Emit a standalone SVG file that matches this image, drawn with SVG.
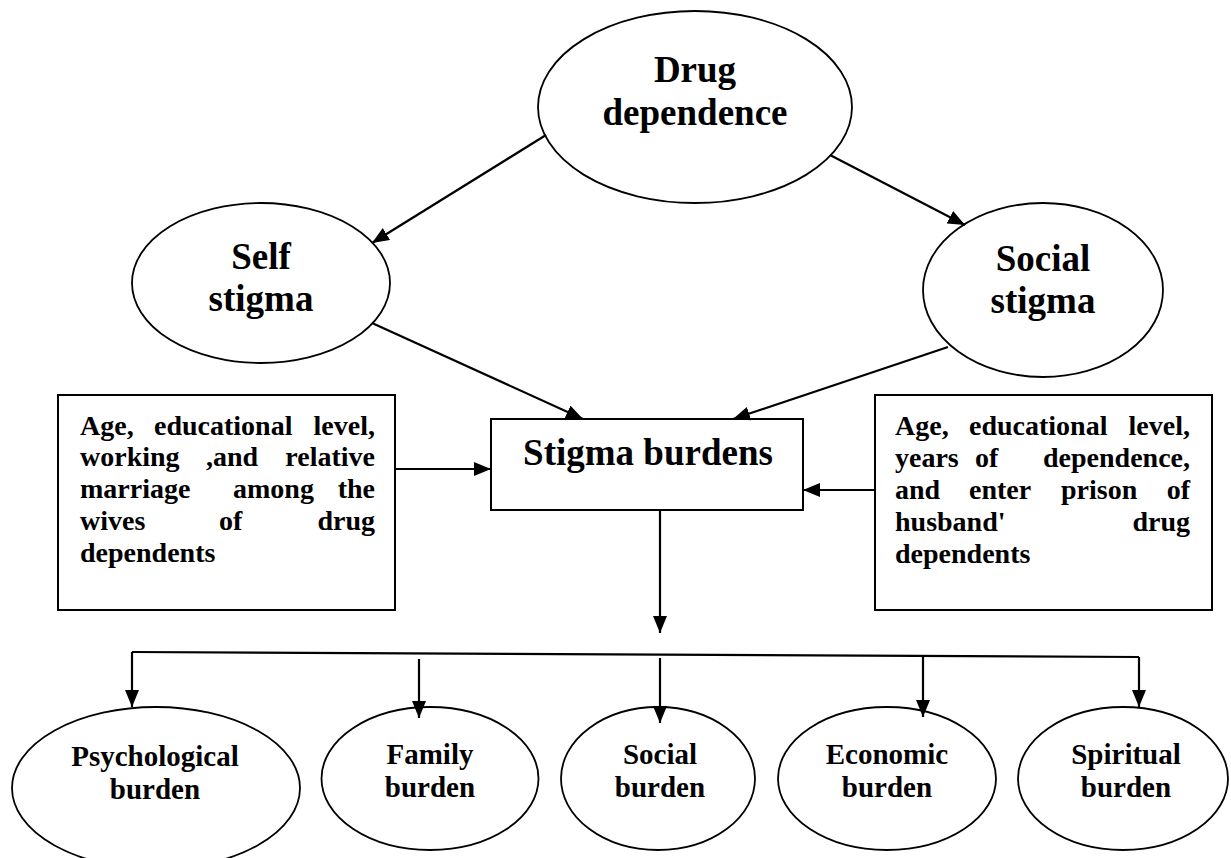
<svg xmlns="http://www.w3.org/2000/svg" width="1231" height="858" viewBox="0 0 1231 858">
<style>
  .shape { fill: #ffffff; stroke: #000000; stroke-width: 1.8; }
  .box { fill: #ffffff; stroke: #000000; stroke-width: 2; }
  .conn { fill: none; stroke: #000000; stroke-width: 2.2; }
  text { font-family: "Liberation Serif", "Times New Roman", serif; font-weight: bold; fill: #000000; }
  .big { font-size: 37px; text-anchor: middle; }
  .mid { font-size: 29px; text-anchor: middle; }
  .sm { font-size: 28px; }
  .end { text-anchor: end; }
</style>
<defs>
  <marker id="arr" markerUnits="userSpaceOnUse" markerWidth="18" markerHeight="14" refX="17" refY="7" orient="auto">
    <path d="M0,0 L17,7 L0,14 z" fill="#000000"/>
  </marker>
</defs>
<rect x="0" y="0" width="1231" height="858" fill="#ffffff"/>

<g id="drug-dependence">
  <ellipse class="shape" cx="695" cy="107" rx="157" ry="96"/>
  <text class="big" x="695" y="82">Drug</text>
  <text class="big" x="695" y="125">dependence</text>
</g>

<g id="self-stigma">
  <ellipse class="shape" cx="261" cy="283" rx="129" ry="80"/>
  <text class="big" x="261" y="269">Self</text>
  <text class="big" x="261" y="311">stigma</text>
</g>

<g id="social-stigma">
  <ellipse class="shape" cx="1043" cy="290" rx="120" ry="87"/>
  <text class="big" x="1043" y="271">Social</text>
  <text class="big" x="1043" y="313">stigma</text>
</g>

<g id="stigma-burdens">
  <rect class="box" x="491" y="419" width="312" height="91"/>
  <text class="big" x="648" y="465">Stigma burdens</text>
</g>

<g id="left-factors">
  <rect class="box" x="58" y="395" width="337" height="215"/>
  <text class="sm" x="80" y="435">Age,</text>
  <text class="sm" x="154" y="435">educational</text>
  <text class="sm end" x="375" y="435">level,</text>
  <text class="sm" x="80" y="466">working</text>
  <text class="sm" x="206" y="466">,and</text>
  <text class="sm end" x="375" y="466">relative</text>
  <text class="sm" x="80" y="498">marriage</text>
  <text class="sm" x="233" y="498">among</text>
  <text class="sm end" x="375" y="498">the</text>
  <text class="sm" x="80" y="530">wives</text>
  <text class="sm" x="219" y="530">of</text>
  <text class="sm end" x="375" y="530">drug</text>
  <text class="sm" x="80" y="562">dependents</text>
</g>

<g id="right-factors">
  <rect class="box" x="875" y="395" width="337" height="215"/>
  <text class="sm" x="895" y="435">Age,</text>
  <text class="sm" x="969" y="435">educational</text>
  <text class="sm end" x="1190" y="435">level,</text>
  <text class="sm" x="895" y="467">years</text>
  <text class="sm" x="975" y="467">of</text>
  <text class="sm end" x="1190" y="467">dependence,</text>
  <text class="sm" x="895" y="499">and</text>
  <text class="sm" x="969" y="499">enter</text>
  <text class="sm" x="1061" y="499">prison</text>
  <text class="sm end" x="1190" y="499">of</text>
  <text class="sm" x="895" y="531">husband'</text>
  <text class="sm end" x="1190" y="531">drug</text>
  <text class="sm" x="895" y="563">dependents</text>
</g>

<g id="psychological-burden">
  <ellipse class="shape" cx="156" cy="788" rx="144" ry="81"/>
  <text class="mid" x="155" y="766">Psychological</text>
  <text class="mid" x="155" y="799">burden</text>
</g>

<g id="family-burden">
  <ellipse class="shape" cx="430" cy="778.5" rx="108.5" ry="71.5"/>
  <text class="mid" x="430" y="764">Family</text>
  <text class="mid" x="430" y="797">burden</text>
</g>

<g id="social-burden">
  <ellipse class="shape" cx="658" cy="778.5" rx="97" ry="71.5"/>
  <text class="mid" x="660" y="764">Social</text>
  <text class="mid" x="660" y="797">burden</text>
</g>

<g id="economic-burden">
  <ellipse class="shape" cx="887" cy="778.5" rx="109" ry="71.5"/>
  <text class="mid" x="887" y="764">Economic</text>
  <text class="mid" x="887" y="797">burden</text>
</g>

<g id="spiritual-burden">
  <ellipse class="shape" cx="1123" cy="778.5" rx="105" ry="71.5"/>
  <text class="mid" x="1126" y="764">Spiritual</text>
  <text class="mid" x="1126" y="797">burden</text>
</g>

<g id="connectors">
  <line class="conn" x1="546" y1="135" x2="372" y2="243" marker-end="url(#arr)"/>
  <line class="conn" x1="830" y1="155" x2="965" y2="225" marker-end="url(#arr)"/>
  <line class="conn" x1="372" y1="323" x2="583" y2="419" marker-end="url(#arr)"/>
  <line class="conn" x1="948" y1="347" x2="733" y2="419" marker-end="url(#arr)"/>
  <line class="conn" x1="395" y1="469" x2="491" y2="469" marker-end="url(#arr)"/>
  <line class="conn" x1="875" y1="490" x2="803" y2="490" marker-end="url(#arr)"/>
  <line class="conn" x1="660" y1="510" x2="660" y2="633" marker-end="url(#arr)"/>
  <line class="conn" x1="132" y1="652" x2="1139" y2="657"/>
  <line class="conn" x1="132" y1="652" x2="132" y2="707" marker-end="url(#arr)"/>
  <line class="conn" x1="419" y1="659" x2="419" y2="718" marker-end="url(#arr)"/>
  <line class="conn" x1="660" y1="658" x2="660" y2="723" marker-end="url(#arr)"/>
  <line class="conn" x1="923" y1="657" x2="923" y2="717" marker-end="url(#arr)"/>
  <line class="conn" x1="1139" y1="657" x2="1139" y2="707" marker-end="url(#arr)"/>
</g>
</svg>
